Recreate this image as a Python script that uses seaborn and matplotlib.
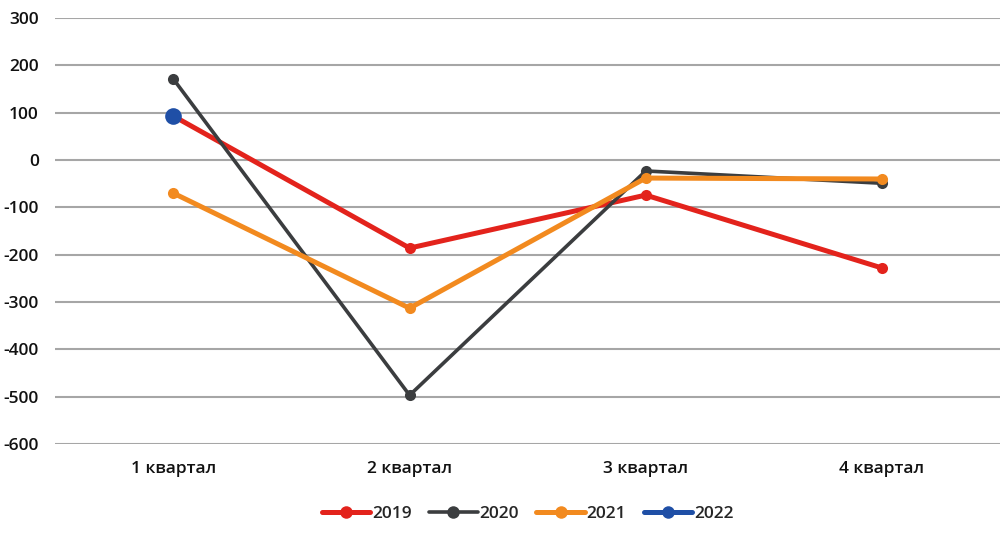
import pandas as pd
import numpy as np
import matplotlib
matplotlib.use('Agg')
import matplotlib.pyplot as plt
import matplotlib.colors as mcolors
import seaborn as sns

# data
quarters = ['1 квартал', '2 квартал', '3 квартал', '4 квартал']
y2019 = [93, -186, -74, -228]
y2020 = [171, -497, -23, -49]
y2021 = [-70, -313, -38, -40]
y2022 = [93, np.nan, np.nan, np.nan]

years = ['2019', '2020', '2021', '2022']
colors = ['#E3231C', '#3B3D3F', '#F28A1F', '#1F4FA6']

df = pd.DataFrame({
    'quarter': quarters * 4,
    'year': [y for y in years for _ in quarters],
    'value': y2019 + y2020 + y2021 + y2022,
})

sns.set_style('white')
plt.rcParams['font.family'] = ['Open Sans', 'DejaVu Sans']
plt.rcParams['axes.unicode_minus'] = False

fig = plt.figure(figsize=(10.07, 5.33), dpi=100)
ax = fig.add_axes([0.055, 0.167, 0.938, 0.799])

sns.lineplot(data=df, x='quarter', y='value', hue='year', palette=colors,
             marker='o', markersize=8, markeredgewidth=0, linewidth=3.6,
             sort=False, ax=ax)

# 2020 line is thinner, 2022 point is bigger
for line in ax.lines:
    c = mcolors.to_hex(line.get_color()).upper()
    if c == '#3B3D3F':
        line.set_linewidth(2.6)
    if c == '#1F4FA6':
        line.set_markersize(12)
        line.set_zorder(5)

ax.set_ylim(-600, 300)
ax.set_yticks(range(-600, 301, 100))
ax.set_xlim(-0.5, 3.5)
ax.grid(axis='y', color='#A6A6A6', linewidth=1.5)
ax.set_axisbelow(True)
for s in ax.spines.values():
    s.set_visible(False)
ax.tick_params(length=0, labelsize=12.5, colors='#111111')
ax.tick_params(axis='x', pad=12)
ax.tick_params(axis='y', pad=12)
for lab in ax.get_xticklabels() + ax.get_yticklabels():
    lab.set_fontweight('semibold')
ax.set_xlabel('')
ax.set_ylabel('')

handles, labels = ax.get_legend_handles_labels()
for h in handles:
    h.set_markersize(9)
ax.legend(handles, labels, loc='center', bbox_to_anchor=(0.5, -0.165),
          ncol=4, frameon=False, handlelength=2.8, columnspacing=1.0,
          handletextpad=0.1, prop={'size': 12.5, 'weight': 'semibold'})

fig.savefig('out.png', dpi=100)
